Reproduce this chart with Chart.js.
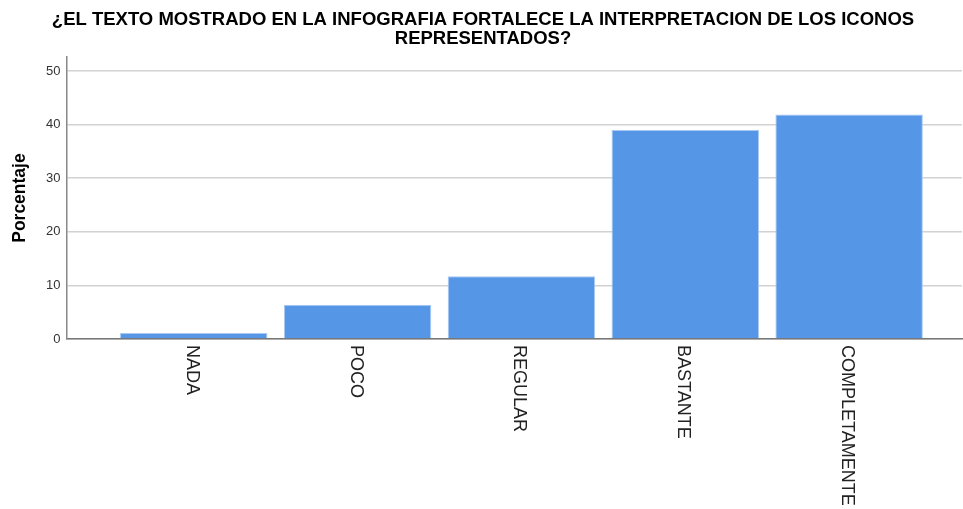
<!DOCTYPE html>
<html>
<head>
<meta charset="utf-8">
<script src="https://cdn.jsdelivr.net/npm/chart.js@4"></script>
<style>
  body { margin: 0; background: #fff; }
  #wrap { width: 963px; height: 509px; }
</style>
</head>
<body>
<div id="wrap"><canvas id="chart"></canvas></div>
<script>
const categories = ['NADA', 'POCO', 'REGULAR', 'BASTANTE', 'COMPLETAMENTE'];
const percentages = [1.1, 6.4, 11.7, 39.0, 41.9];
const yTicks = [0, 10, 20, 30, 40, 50];

const titleLines = [
    '¿EL TEXTO MOSTRADO EN LA INFOGRAFIA FORTALECE LA INTERPRETACION DE LOS ICONOS',
    'REPRESENTADOS?'
];

// labels go downward from the axis, reading top to bottom
const verticalLabels = {
    id: 'verticalLabels',
    afterDraw(chart) {
        const ctx = chart.ctx;
        const xScale = chart.scales.x;
        const bottom = chart.chartArea.bottom;
        ctx.save();
        ctx.font = '18px "Liberation Sans", Arial, sans-serif';
        ctx.fillStyle = '#222';
        ctx.textAlign = 'left';
        ctx.textBaseline = 'middle';
        categories.forEach((name, i) => {
            ctx.save();
            ctx.translate(xScale.getPixelForValue(i) - 2, bottom + 6);
            ctx.rotate(Math.PI / 2);
            ctx.fillText(name, 0, 0);
            ctx.restore();
        });
        ctx.restore();
    }
};

const ctx = document.getElementById('chart').getContext('2d');
new Chart(ctx, {
    type: 'bar',
    data: {
        datasets: [{
            label: 'Porcentaje',
            data: percentages.map((v, i) => ({ x: i, y: v })),
            backgroundColor: '#5596e6',
            borderColor: '#a9c9f2',
            borderWidth: 1,
            barPercentage: 0.9,
            categoryPercentage: 1.0
        }]
    },
    options: {
        responsive: true,
        maintainAspectRatio: false,
        animation: false,
        layout: {
            padding: { left: 4, right: 1, top: 0, bottom: 162 }
        },
        plugins: {
            legend: { display: false },
            tooltip: { enabled: false },
            title: {
                display: true,
                text: titleLines,
                color: '#000',
                font: { family: '"Liberation Sans", Arial, sans-serif', size: 18.5, weight: 'bold', lineHeight: 1.03 },
                padding: { top: 10, bottom: 9 }
            }
        },
        scales: {
            x: {
                type: 'linear',
                offset: false,
                min: -0.777,
                max: 4.689,
                grid: { display: false, offset: false },
                border: { display: true, color: '#777', width: 1.5 },
                ticks: { display: false, stepSize: 1, includeBounds: false }
            },
            y: {
                min: 0,
                max: 52.6,
                afterBuildTicks: scale => {
                    scale.ticks = yTicks.map(v => ({ value: v }));
                },
                grid: { color: '#d2d2d2', lineWidth: 1.5, drawTicks: false },
                border: { display: true, color: '#888', width: 1.5 },
                ticks: {
                    color: '#333',
                    padding: 6,
                    font: { family: '"Liberation Sans", Arial, sans-serif', size: 13 }
                },
                title: {
                    display: true,
                    text: 'Porcentaje',
                    color: '#000',
                    font: { family: '"Liberation Sans", Arial, sans-serif', size: 17.5, weight: 'bold' },
                    padding: { top: 6, bottom: 9 }
                }
            }
        }
    },
    plugins: [verticalLabels]
});
</script>
</body>
</html>
